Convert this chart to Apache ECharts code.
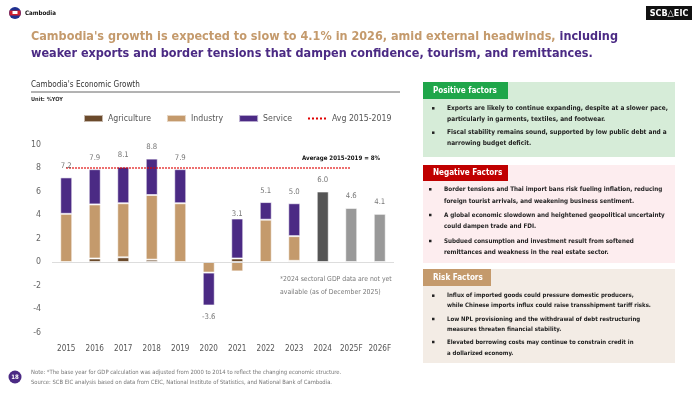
<!DOCTYPE html>
<html>
<head>
<meta charset="utf-8">
<script src="https://cdn.jsdelivr.net/npm/echarts@6/dist/echarts.min.js"></script>
<style>
html,body{margin:0;padding:0;background:#fff;}
#main{width:700px;height:394px;}
</style>
</head>
<body>
<div id="main"></div>
<script>
// ---------- data ----------
const years = ['2015','2016','2017','2018','2019','2020','2021','2022','2023','2024','2025F','2026F'];
const agriculture = [0.0, 0.3, 0.4, 0.2, 0.0, 0.0, 0.3, 0.0, 0.1, null, null, null];
const industry    = [4.1, 4.6, 4.6, 5.5, 5.0, -0.9, -0.8, 3.6, 2.1, null, null, null];
const service     = [3.1, 3.0, 3.1, 3.1, 2.9, -2.8, 3.4, 1.5, 2.8, null, null, null];
const gdpOnly     = [null, null, null, null, null, null, null, null, null, 6.0, 4.6, 4.1];
const growthLabels = [7.2, 7.9, 8.1, 8.8, 7.9, -3.6, 3.1, 5.1, 5.0, 6.0, 4.6, 4.1];
const avgLine = [8, 8, 8, 8, 8, 8, 8, 8, 8, 8, 8, null];
const yTicks = {min: -6, max: 10, interval: 2};

// ---------- font helpers ----------
const ctx = document.createElement('canvas').getContext('2d');
function has(f) {
  const s = 'Agriculture wWmMiIl 0123';
  ctx.font = '20px monospace'; const a = ctx.measureText(s).width;
  ctx.font = "20px '" + f + "', monospace"; return Math.abs(ctx.measureText(s).width - a) > 0.5;
}
const NARROW = has('Liberation Sans Narrow') ? "'Liberation Sans Narrow'" :
  (has('DejaVu Sans Condensed') ? "'DejaVu Sans Condensed'" : "'Liberation Sans'");
const COND = has('DejaVu Sans Condensed') ? "'DejaVu Sans Condensed'" : NARROW;
function fit(text, weight, family, width) {
  ctx.font = weight + ' 100px ' + family;
  return +(100 * width / ctx.measureText(text).width).toFixed(2);
}
const FN = NARROW + ', sans-serif';
const FC = COND + ', sans-serif';

const sz = {
  title: fit("weaker exports and border tensions that dampen confidence, tourism, and remittances.", 'bold', FC, 562),
  header: fit('Cambodia', 'bold', FC, 31),
  xlab: fit('2015', 'normal', FN, 18.5),
  ylab: fit('10', 'normal', FN, 10),
  blab: fit('8.8', 'normal', FN, 11),
  legend: fit('Agriculture', 'normal', FN, 43),
  avg: fit('Average 2015-2019 = 8%', 'bold', FN, 78),
  note24: fit('*2024 sectoral GDP data are not yet', 'normal', FN, 112),
  ctitle: fit("Cambodia's Economic Growth", 'normal', FN, 109),
  unit: fit('Unit: %YOY', 'bold', FN, 32),
  tab: fit('Positive factors', 'bold', FC, 64),
  pos: fit('Exports are likely to continue expanding, despite at a slower pace,', 'bold', FN, 221),
  neg: fit('Border tensions and Thai import bans risk fueling inflation, reducing', 'bold', FN, 218),
  risk: fit('while Chinese imports influx could raise transshipment tariff risks.', 'bold', FN, 204),
  foot: fit('Note: *The base year for GDP calculation was adjusted from 2000 to 2014 to reflect the changing economic structure.', 'normal', FN, 311)
};

// ---------- style ----------
const C_AGRI = '#6B4A2B', C_IND = '#C49A6C', C_SERV = '#4B2A84';
const C_ACT = '#555555', C_FC = '#999999';

const chart = echarts.init(document.getElementById('main'));

function barSeries(name, data, color) {
  return {
    name, type: 'bar', stack: 'g', data, barWidth: 12,
    itemStyle: {color, borderColor: 'rgba(255,255,255,0.6)', borderWidth: 1},
    emphasis: {disabled: true}
  };
}

const gdpData = gdpOnly.map((v, i) => v == null ? null :
  {value: v, itemStyle: {color: years[i].endsWith('F') ? C_FC : C_ACT}});

const labelData = growthLabels.map(v => ({
  value: v,
  label: {position: v < 0 ? 'bottom' : 'top', distance: v < 0 ? 8 : 7}
}));

function bulletText(x, y, lines, lh, size) {
  return {type: 'text', x, y, style: {text: lines.join('\n'), font: 'bold ' + size + 'px ' + FN, fill: '#222', lineHeight: lh, verticalAlign: 'middle'}};
}
function bullet(x, y) {
  return {type: 'rect', shape: {x: x, y: y - 1.25, width: 2.5, height: 2.5}, style: {fill: '#222'}};
}

const graphics = [
  // header
  {type: 'circle', shape: {cx: 15, cy: 13, r: 6}, style: {fill: '#1f2f8f'}},
  {type: 'rect', shape: {x: 9.5, y: 10.5, width: 11, height: 5}, style: {fill: '#d0202f'}},
  {type: 'rect', shape: {x: 12.5, y: 11, width: 5, height: 3}, style: {fill: '#fff'}},
  {type: 'text', x: 25, y: 13, style: {text: 'Cambodia', font: 'bold ' + sz.header + 'px ' + FC, fill: '#111', verticalAlign: 'middle'}},
  {type: 'rect', shape: {x: 646, y: 6, width: 46, height: 14}, style: {fill: '#111'}},
  {type: 'text', x: 669, y: 13.5, style: {text: 'SCB△EIC', font: 'bold 9px ' + FC, fill: '#fff', align: 'center', verticalAlign: 'middle'}},
  // title
  {type: 'text', x: 31, y: 45.5, style: {
    text: "{a|Cambodia's growth is expected to slow to 4.1% in 2026, amid external headwinds, }{b|including}\n{b|weaker exports and border tensions that dampen confidence, tourism, and remittances.}",
    verticalAlign: 'middle', lineHeight: 17,
    rich: {
      a: {font: 'bold ' + sz.title + 'px ' + FC, fill: '#C49A6C', lineHeight: 17},
      b: {font: 'bold ' + sz.title + 'px ' + FC, fill: '#4B2A84', lineHeight: 17}
    }
  }},
  // chart title
  {type: 'text', x: 31, y: 85, style: {text: "Cambodia's Economic Growth", font: sz.ctitle + 'px ' + FN, fill: '#333', verticalAlign: 'middle'}},
  {type: 'line', shape: {x1: 31, y1: 92, x2: 400, y2: 92}, style: {stroke: '#666', lineWidth: 1}},
  {type: 'text', x: 31, y: 99.5, style: {text: 'Unit: %YOY', font: 'bold ' + sz.unit + 'px ' + FN, fill: '#333', verticalAlign: 'middle'}},
  // annotations
  {type: 'text', x: 380, y: 158, style: {text: 'Average 2015-2019 = 8%', font: 'bold ' + sz.avg + 'px ' + FN, fill: '#111', align: 'right', verticalAlign: 'middle'}},
  {type: 'text', x: 280, y: 285.5, style: {text: '*2024 sectoral GDP data are not yet\navailable (as of December 2025)', font: sz.note24 + 'px ' + FN, fill: '#777', lineHeight: 12.5, verticalAlign: 'middle'}},
  // positive panel
  {type: 'rect', shape: {x: 423, y: 82, width: 252, height: 75}, style: {fill: '#D6ECD8'}},
  {type: 'rect', shape: {x: 423, y: 82, width: 85, height: 17}, style: {fill: '#1FA64A'}},
  {type: 'text', x: 433, y: 90.5, style: {text: 'Positive factors', font: 'bold ' + sz.tab + 'px ' + FC, fill: '#fff', verticalAlign: 'middle'}},
  bullet(432, 108.3), bullet(432, 132.7),
  bulletText(447, 113.8, ['Exports are likely to continue expanding, despite at a slower pace,', 'particularly in garments, textiles, and footwear.'], 11, sz.pos),
  bulletText(447, 138, ['Fiscal stability remains sound, supported by low public debt and a', 'narrowing budget deficit.'], 10.6, sz.pos),
  // negative panel
  {type: 'rect', shape: {x: 423, y: 165, width: 252, height: 98}, style: {fill: '#FDEDEF'}},
  {type: 'rect', shape: {x: 423, y: 165, width: 85, height: 16}, style: {fill: '#C00000'}},
  {type: 'text', x: 433, y: 173, style: {text: 'Negative Factors', font: 'bold ' + sz.tab + 'px ' + FC, fill: '#fff', verticalAlign: 'middle'}},
  bullet(429, 189.3), bullet(429, 215), bullet(429, 241),
  bulletText(444, 195.5, ['Border tensions and Thai import bans risk fueling inflation, reducing', 'foreign tourist arrivals, and weakening business sentiment.'], 12.4, sz.neg),
  bulletText(444, 220.8, ['A global economic slowdown and heightened geopolitical uncertainty', 'could dampen trade and FDI.'], 11.7, sz.neg),
  bulletText(444, 246.7, ['Subdued consumption and investment result from softened', 'remittances and weakness in the real estate sector.'], 11.3, sz.neg),
  // risk panel
  {type: 'rect', shape: {x: 423, y: 269, width: 252, height: 94}, style: {fill: '#F3ECE5'}},
  {type: 'rect', shape: {x: 423, y: 269, width: 68, height: 17}, style: {fill: '#C49A6C'}},
  {type: 'text', x: 433, y: 277.5, style: {text: 'Risk Factors', font: 'bold ' + sz.tab + 'px ' + FC, fill: '#fff', verticalAlign: 'middle'}},
  bullet(432, 295.7), bullet(432, 319), bullet(432, 342),
  bulletText(447, 300.7, ['Influx of imported goods could pressure domestic producers,', 'while Chinese imports influx could raise transshipment tariff risks.'], 10, sz.risk),
  bulletText(447, 324, ['Low NPL provisioning and the withdrawal of debt restructuring', 'measures threaten financial stability.'], 10, sz.risk),
  bulletText(447, 347.7, ['Elevated borrowing costs may continue to constrain credit in', 'a dollarized economy.'], 11.3, sz.risk),
  // footer
  {type: 'circle', shape: {cx: 15, cy: 377, r: 6.5}, style: {fill: '#4B2A84'}},
  {type: 'text', x: 15, y: 377, style: {text: '18', font: 'bold 6px ' + FC, fill: '#fff', align: 'center', verticalAlign: 'middle'}},
  {type: 'text', x: 31, y: 377, style: {text: 'Note: *The base year for GDP calculation was adjusted from 2000 to 2014 to reflect the changing economic structure.\nSource: SCB EIC analysis based on data from CEIC, National Institute of Statistics, and National Bank of Cambodia.', font: sz.foot + 'px ' + FN, fill: '#777', lineHeight: 10, verticalAlign: 'middle'}}
];

const option = {
  animation: false,
  textStyle: {fontFamily: FN},
  grid: {left: 52, right: 306, top: 144.5, bottom: 61.5, containLabel: false},
  legend: {
    left: 83, top: 114, padding: 0, itemWidth: 19, itemHeight: 7, itemGap: 15,
    textStyle: {fontSize: sz.legend, color: '#555', fontFamily: FN},
    data: [
      {name: 'Agriculture', icon: 'rect'},
      {name: 'Industry', icon: 'rect'},
      {name: 'Service', icon: 'rect'},
      {name: 'Avg 2015-2019', itemStyle: {opacity: 0}}
    ],
    selectedMode: false
  },
  xAxis: {
    type: 'category', data: years,
    axisLine: {show: false}, axisTick: {show: false},
    axisLabel: {interval: 0, fontSize: sz.xlab, color: '#555', margin: 12, fontFamily: FN}
  },
  yAxis: {
    type: 'value', min: yTicks.min, max: yTicks.max, interval: yTicks.interval,
    axisLine: {show: false}, axisTick: {show: false}, splitLine: {show: false},
    axisLabel: {fontSize: sz.ylab, color: '#666', margin: 11, fontFamily: FN}
  },
  series: [
    Object.assign(barSeries('Agriculture', agriculture, C_AGRI), {
      markLine: {silent: true, symbol: 'none', label: {show: false},
        lineStyle: {color: '#ddd', type: 'solid', width: 1}, data: [{yAxis: 0}]}
    }),
    barSeries('Industry', industry, C_IND),
    barSeries('Service', service, C_SERV),
    barSeries('GDP', gdpData, C_ACT),
    {
      name: 'Avg 2015-2019', type: 'line', data: avgLine, symbol: 'none', z: 5,
      lineStyle: {color: '#E00000', type: 'dotted', width: 1.5},
      itemStyle: {color: '#E00000'}
    },
    {
      name: 'labels', type: 'scatter', data: labelData, symbolSize: 1, z: 6,
      itemStyle: {color: 'rgba(0,0,0,0)'},
      label: {show: true, fontSize: sz.blab, color: '#555', fontFamily: FN,
        formatter: p => p.value.toFixed(1)}
    }
  ],
  graphic: graphics
};
chart.setOption(option);
</script>
</body>
</html>
